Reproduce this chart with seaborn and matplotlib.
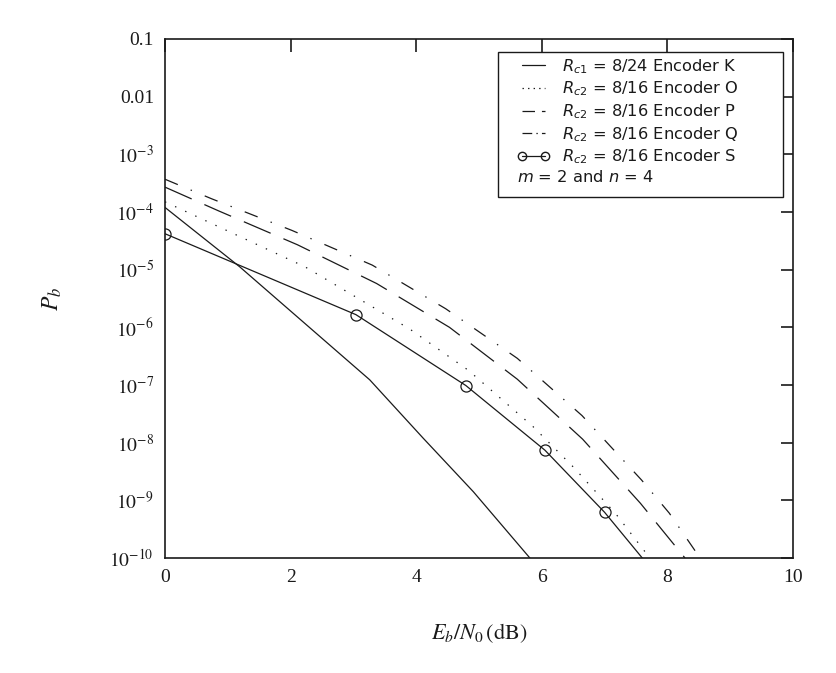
import numpy as np
import pandas as pd
import matplotlib
matplotlib.use('Agg')
from matplotlib import pyplot as plt
from matplotlib.lines import Line2D
from matplotlib.patches import Rectangle
from matplotlib.font_manager import FontProperties
import seaborn as sns

# values (Eb/N0 in dB, Pb)
ebn0_K = [0, 1.19, 3.26, 4.11, 4.91, 5.81]
pb_K = [1.2e-4, 1.12e-5, 1.23e-7, 1.2e-8, 1.41e-9, 1e-10]

ebn0_O = [0, 2.23, 3.9, 4.83, 5.86, 6.5, 7.18, 7.72]
pb_O = [1.5e-4, 1.12e-5, 9.3e-7, 1.8e-7, 1.9e-8, 3.8e-9, 5.8e-10, 1e-10]

ebn0_P = [0, 0.85, 2.11, 3.37, 4.53, 5.61, 6.65, 7.57, 8.28]
pb_P = [2.7e-4, 1.05e-4, 2.7e-5, 5.75e-6, 1e-6, 1.26e-7, 1.15e-8, 8.9e-10, 1e-10]

ebn0_Q = [0, 0.74, 2.02, 3.30, 4.47, 5.61, 6.64, 7.59, 8.03, 8.52]
pb_Q = [3.7e-4, 1.7e-4, 4.8e-5, 1.2e-5, 2.1e-6, 2.9e-7, 2.95e-8, 2.24e-9, 6e-10, 1e-10]

ebn0_S = [0, 3.04, 4.79, 6.05, 7.0, 7.6]
pb_S = [4.2e-5, 1.66e-6, 9.8e-8, 7.4e-9, 6.2e-10, 1e-10]

xticks = [0, 2, 4, 6, 8, 10]
xtick_labels = ['0', '2', '4', '6', '8', '10']
yticks = [1e-1, 1e-2, 1e-3, 1e-4, 1e-5, 1e-6, 1e-7, 1e-8, 1e-9, 1e-10]
ytick_labels = ['0.1', '0.01', r'$10^{-3}$', r'$10^{-4}$', r'$10^{-5}$', r'$10^{-6}$',
                r'$10^{-7}$', r'$10^{-8}$', r'$10^{-9}$', r'$10^{-10}$']

legend_labels = [r'$R_{c1}$ = 8/24 Encoder K',
                 r'$R_{c2}$ = 8/16 Encoder O',
                 r'$R_{c2}$ = 8/16 Encoder P',
                 r'$R_{c2}$ = 8/16 Encoder Q',
                 r'$R_{c2}$ = 8/16 Encoder S']
note_text = r'$m$ = 2 and $n$ = 4'

#########################################################
sns.set_theme(style='white')
plt.rcParams['font.family'] = ['Liberation Serif', 'DejaVu Serif']
plt.rcParams['mathtext.fontset'] = 'stix'
plt.rcParams['lines.scale_dashes'] = False
plt.rcParams['text.color'] = 'k'
plt.rcParams['axes.labelcolor'] = 'k'
plt.rcParams['xtick.color'] = 'k'
plt.rcParams['ytick.color'] = 'k'

fig = plt.figure(figsize=(8.37, 6.73), dpi=100)
ax = fig.add_axes([165/837, 1 - 558/673, 628/837, 519/673])

lw = 0.9
styles = {
    'K': dict(linestyle='-'),
    'O': dict(linestyle=(0, (1.0, 7.0))),
    'P': dict(linestyle=(0, (21, 10))),
    'Q': dict(linestyle=(0, (10, 10, 1, 10))),
}
curves = {'K': (ebn0_K, pb_K), 'O': (ebn0_O, pb_O), 'P': (ebn0_P, pb_P), 'Q': (ebn0_Q, pb_Q)}
for name, (xs, ys) in curves.items():
    df = pd.DataFrame({'x': xs, 'y': ys})
    sns.lineplot(data=df, x='x', y='y', ax=ax, color='k', lw=lw, errorbar=None,
                 sort=False, **styles[name])

dfS = pd.DataFrame({'x': ebn0_S, 'y': pb_S})
sns.lineplot(data=dfS, x='x', y='y', ax=ax, color='k', lw=lw, errorbar=None, sort=False,
             marker='o', markersize=8, markerfacecolor='none', markeredgecolor='k',
             markeredgewidth=0.9, markevery=[0, 1, 2, 3, 4])

ax.set_yscale('log')
ax.set_xlim(0, 10)
ax.set_ylim(1e-10, 1e-1)
ax.set_xticks(xticks)
ax.set_xticklabels(xtick_labels, fontsize=14)
ax.set_yticks(yticks)
ax.set_yticklabels(ytick_labels, fontsize=14)
ax.minorticks_off()
ax.tick_params(direction='in', length=9, width=1.2, color='k', top=True, right=True,
               labelcolor='k')
ax.tick_params(axis='x', pad=8)
ax.tick_params(axis='y', pad=8)
for sp in ax.spines.values():
    sp.set_color('k')
    sp.set_linewidth(1.2)

ax.set_xlabel(r'$E_b/N_0\,(\mathrm{dB})$', fontsize=16, labelpad=25, math_fontfamily='stix')
ax.set_ylabel(r'$P_b$', fontsize=17, labelpad=33, math_fontfamily='stix')

# legend box drawn as a plain rectangle, entries placed inside it
box = Rectangle((0.530, 0.6956), 0.454, 0.2794, transform=ax.transAxes,
                facecolor='white', edgecolor='k', lw=1.0, zorder=4)
ax.add_patch(box)

handles = [Line2D([], [], color='k', lw=lw, ls='-'),
           Line2D([], [], color='k', lw=lw, ls=(0, (1, 3))),
           Line2D([], [], color='k', lw=lw, ls=(0, (9, 5))),
           Line2D([], [], color='k', lw=lw, ls=(0, (7, 3, 1, 3))),
           Line2D([], [], color='k', lw=lw, marker='o', mfc='none', mec='k', ms=6)]
lprop = FontProperties(family='DejaVu Sans', size=11.7, math_fontfamily='dejavusans')
leg = ax.legend(handles, legend_labels, loc='upper left',
                bbox_to_anchor=(0.5605, 0.9653), prop=lprop, frameon=False,
                handlelength=2.05, handletextpad=0.73, labelspacing=0.24,
                borderpad=0, borderaxespad=0, numpoints=2, labelcolor='k')
leg.set_zorder(5)
ax.text(0.5605, 0.734, note_text, transform=ax.transAxes, fontproperties=lprop,
        va='center', ha='left', zorder=10, color='k')

fig.savefig('out.png', dpi=100, facecolor='white')
